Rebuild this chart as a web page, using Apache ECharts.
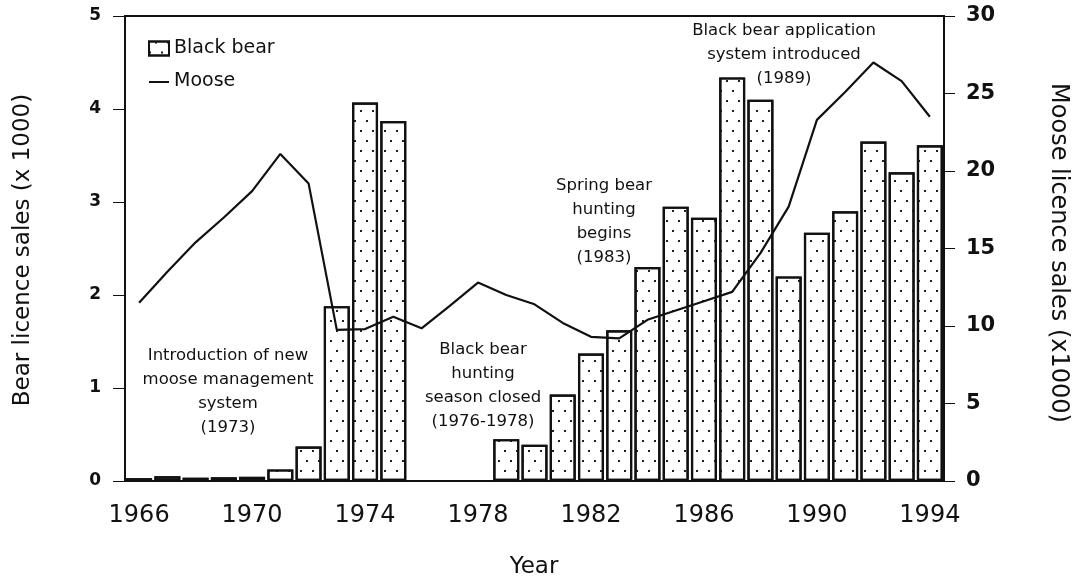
<!DOCTYPE html>
<html>
<head>
<meta charset="utf-8">
<script src="https://cdn.jsdelivr.net/npm/echarts@6/dist/echarts.min.js"></script>
<style>
  html, body { margin: 0; padding: 0; background: #fff; }
  #chart { width: 1079px; height: 579px; }
</style>
</head>
<body>
<div id="chart"></div>
<script>
const years = ['1966', '1967', '1968', '1969', '1970', '1971', '1972', '1973', '1974', '1975',
  '1976', '1977', '1978', '1979', '1980', '1981', '1982', '1983', '1984', '1985',
  '1986', '1987', '1988', '1989', '1990', '1991', '1992', '1993', '1994'];

// bear licences (x 1000), left axis; season closed 1976-1978
const bearSales = [0.03, 0.05, 0.035, 0.04, 0.045, 0.125, 0.37, 1.88, 4.07, 3.87,
  null, null, null, 0.45, 0.39, 0.93, 1.37, 1.62, 2.30, 2.95,
  2.83, 4.34, 4.10, 2.20, 2.67, 2.90, 3.65, 3.32, 3.61];

// moose licences (x 1000), right axis
const mooseSales = [11.5, 13.5, 15.4, 17.0, 18.7, 21.1, 19.2, 9.75, 9.8, 10.6,
  9.85, 11.3, 12.8, 12.0, 11.4, 10.2, 9.3, 9.2, 10.4, 11.0,
  11.6, 12.2, 14.7, 17.7, 23.3, 25.1, 27.0, 25.8, 23.5];

const notes = [
  'Introduction of new\nmoose management\nsystem\n(1973)',
  'Black bear\nhunting\nseason closed\n(1976-1978)',
  'Spring bear\nhunting\nbegins\n(1983)',
  'Black bear application\nsystem introduced\n(1989)'
];

const font = 'DejaVu Sans';
const ink = '#111';

const chart = echarts.init(document.getElementById('chart'));

function note(text, x, y) {
  return {
    type: 'text',
    x: x,
    y: y,
    z: 10,
    style: {
      text: text,
      font: '16.5px "DejaVu Sans"',
      fill: ink,
      textAlign: 'center',
      textVerticalAlign: 'top',
      lineHeight: 24
    }
  };
}

// thin line icon for the legend (the tiny slivers keep the box 20x14)
const lineIcon = 'path://M0,0H20V0.01H0Z M0,6.5H20V8.5H0Z M0,13.99H20V14H0Z';

let option = {
  animation: false,
  grid: {
    left: 125,
    right: 135,
    top: 16,
    bottom: 98,
    show: true,
    borderColor: ink,
    borderWidth: 2,
    backgroundColor: 'transparent'
  },
  legend: {
    orient: 'vertical',
    left: 143,
    top: 34,
    itemWidth: 20,
    itemHeight: 14,
    itemGap: 14,
    textStyle: { fontFamily: font, fontSize: 19, color: ink },
    data: [
      { name: 'Black bear', icon: 'rect' },
      { name: 'Moose', icon: lineIcon, itemStyle: { color: ink, borderWidth: 0 } }
    ]
  },
  xAxis: [
    {
      type: 'category',
      data: years,
      boundaryGap: true,
      axisLine: { lineStyle: { color: ink, width: 2 } },
      axisTick: { alignWithLabel: true, interval: 0, length: 6, lineStyle: { color: ink } },
      axisLabel: { interval: 3, fontFamily: font, fontSize: 24, color: ink, margin: 23 },
      splitLine: { show: false }
    },
    {
      // longer ticks every 4 years
      type: 'category',
      data: years,
      position: 'bottom',
      boundaryGap: true,
      axisLine: { show: false },
      axisTick: { alignWithLabel: true, interval: 3, length: 12, lineStyle: { color: ink } },
      axisLabel: { show: false },
      splitLine: { show: false }
    }
  ],
  yAxis: [
    {
      type: 'value',
      min: 0,
      max: 5,
      interval: 1,
      axisLine: { show: true, lineStyle: { color: ink, width: 2 } },
      axisTick: { show: true, length: 12, lineStyle: { color: ink } },
      axisLabel: { fontFamily: font, fontSize: 17, fontWeight: 'bold', color: ink, margin: 24 },
      splitLine: { show: false }
    },
    {
      type: 'value',
      position: 'right',
      min: 0,
      max: 30,
      interval: 5,
      axisLine: { show: true, lineStyle: { color: ink, width: 2 } },
      axisTick: { show: true, length: 11, lineStyle: { color: ink } },
      axisLabel: { fontFamily: font, fontSize: 21, fontWeight: 'bold', color: ink, margin: 22 },
      splitLine: { show: false }
    }
  ],
  series: [
    {
      name: 'Black bear',
      type: 'bar',
      xAxisIndex: 0,
      yAxisIndex: 0,
      barCategoryGap: '8%',
      itemStyle: {
        color: '#fff',
        borderColor: ink,
        borderWidth: 2.2,
        decal: {
          symbol: 'rect',
          symbolSize: 1,
          color: '#222',
          dashArrayX: [[1.7, 9.3], [0, 5.5, 1.7, 3.8]],
          dashArrayY: [1.7, 7.5],
          rotation: 0
        }
      },
      data: bearSales
    },
    {
      name: 'Moose',
      type: 'line',
      xAxisIndex: 0,
      yAxisIndex: 1,
      symbol: 'none',
      showSymbol: false,
      z: 5,
      lineStyle: { color: ink, width: 2.2 },
      itemStyle: { color: ink },
      data: mooseSales
    }
  ],
  graphic: [
    note(notes[0], 228, 344),
    note(notes[1], 483, 338),
    note(notes[2], 604, 174),
    note(notes[3], 784, 19),
    {
      type: 'text',
      x: 23,
      y: 250,
      rotation: Math.PI / 2,
      style: {
        text: 'Bear licence sales (x 1000)',
        font: '23px "DejaVu Sans"',
        fill: ink,
        textAlign: 'center',
        textVerticalAlign: 'middle'
      }
    },
    {
      type: 'text',
      x: 1058,
      y: 253,
      rotation: -Math.PI / 2,
      style: {
        text: 'Moose licence sales (x1000)',
        font: '24px "DejaVu Sans"',
        fill: ink,
        textAlign: 'center',
        textVerticalAlign: 'middle'
      }
    },
    {
      type: 'text',
      x: 534,
      y: 567,
      style: {
        text: 'Year',
        font: '23px "DejaVu Sans"',
        fill: ink,
        textAlign: 'center',
        textVerticalAlign: 'middle'
      }
    }
  ]
};

chart.setOption(option);
</script>
</body>
</html>
